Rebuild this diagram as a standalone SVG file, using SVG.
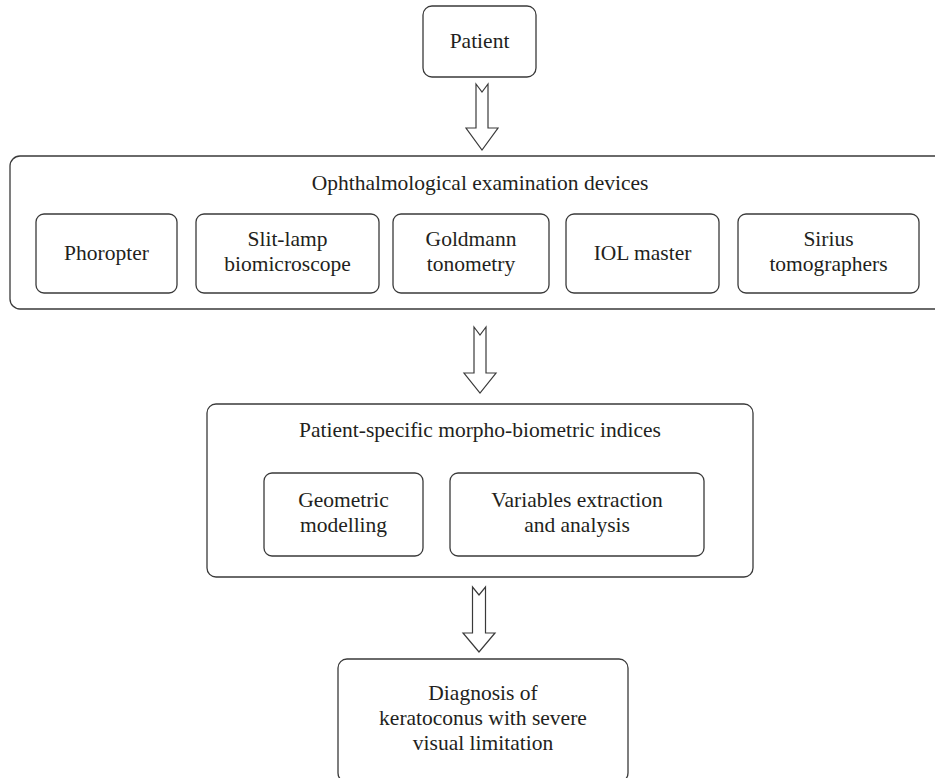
<svg xmlns="http://www.w3.org/2000/svg" width="935" height="778" viewBox="0 0 935 778">
<style>
  .box { fill: #ffffff; stroke: #3a3a3a; stroke-width: 1.3; }
  .arrow { fill: #ffffff; stroke: #3a3a3a; stroke-width: 1.2; stroke-linejoin: miter; }
  text { font-family: "Liberation Serif", "Times New Roman", serif; font-size: 21.5px; fill: #231f20; text-anchor: middle; }
</style>
<rect x="0" y="0" width="935" height="778" fill="#ffffff"/>

<g id="connectors">
  <path class="arrow" d="M476,84 L482,92 L488,84 L488,128 L498,128 L482,150 L466,128 L476,128 Z"/>
  <path class="arrow" d="M474,327 L480,335 L486,327 L486,373 L496,373 L480,393 L464,373 L474,373 Z"/>
  <path class="arrow" d="M472.5,587 L479,595 L485.5,587 L485.5,633 L495,633 L479,652 L463,633 L472.5,633 Z"/>
</g>

<g id="patient">
  <rect class="box" x="423" y="6" width="113" height="71" rx="9"/>
  <text x="479.5" y="48">Patient</text>
</g>

<g id="devices">
  <rect class="box" x="10" y="156" width="940" height="153" rx="10"/>
  <text x="480" y="190">Ophthalmological examination devices</text>
</g>

<g id="phoropter">
  <rect class="box" x="36" y="214" width="141" height="79" rx="8"/>
  <text x="106.5" y="260">Phoropter</text>
</g>

<g id="slitlamp">
  <rect class="box" x="196" y="214" width="183" height="79" rx="8"/>
  <text x="287.5" y="245.5">Slit-lamp</text>
  <text x="287.5" y="270.5">biomicroscope</text>
</g>

<g id="goldmann">
  <rect class="box" x="393" y="214" width="156" height="79" rx="8"/>
  <text x="471" y="245.5">Goldmann</text>
  <text x="471" y="270.5">tonometry</text>
</g>

<g id="iolmaster">
  <rect class="box" x="566" y="214" width="153" height="79" rx="8"/>
  <text x="642.5" y="260">IOL master</text>
</g>

<g id="sirius">
  <rect class="box" x="738" y="214" width="181" height="79" rx="8"/>
  <text x="828.5" y="245.5">Sirius</text>
  <text x="828.5" y="270.5">tomographers</text>
</g>

<g id="indices">
  <rect class="box" x="207" y="404" width="546" height="173" rx="9"/>
  <text x="480" y="437">Patient-specific morpho-biometric indices</text>
</g>

<g id="geometric">
  <rect class="box" x="264" y="473" width="159" height="83" rx="8"/>
  <text x="343.5" y="507">Geometric</text>
  <text x="343.5" y="532">modelling</text>
</g>

<g id="variables">
  <rect class="box" x="450" y="473" width="254" height="83" rx="8"/>
  <text x="577" y="507">Variables extraction</text>
  <text x="577" y="532">and analysis</text>
</g>

<g id="diagnosis">
  <rect class="box" x="338" y="659" width="290" height="123" rx="9"/>
  <text x="483" y="700">Diagnosis of</text>
  <text x="483" y="725">keratoconus with severe</text>
  <text x="483" y="750">visual limitation</text>
</g>
</svg>
